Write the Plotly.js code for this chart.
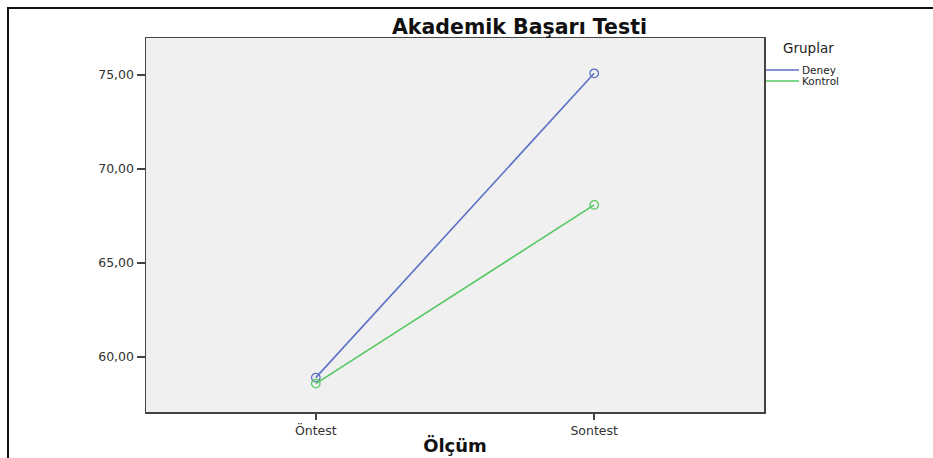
<!DOCTYPE html>
<html>
<head>
<meta charset="utf-8">
<script src="https://cdn.plot.ly/plotly-3.0.1.min.js"></script>
<style>
  html, body { margin:0; padding:0; background:#ffffff; }
  #wrap { position:relative; width:933px; height:458px; overflow:hidden; }
  #chart { position:absolute; left:0; top:0; width:933px; height:458px; }
  #frame { position:absolute; left:7px; top:7px; width:940px; height:480px;
           border-top:2px solid #111; border-left:2px solid #111; pointer-events:none; }
</style>
</head>
<body>
<div id="wrap">
  <div id="chart"></div>
  <div id="frame"></div>
</div>
<script>
const categories = ["Öntest", "Sontest"];
const seriesNames = ["Deney", "Kontrol"];
const deneyValues = [58.90, 75.09];
const kontrolValues = [58.58, 68.09];
const yTickValues = [60, 65, 70, 75];
const legendTitle = "Gruplar";

const colors = ["#5b6fc6", "#55c860"];
const seriesValues = [deneyValues, kontrolValues];
const FONT = "DejaVu Sans, Verdana, sans-serif";

const traces = seriesNames.map((name, i) => ({
  type: "scatter",
  mode: "lines+markers",
  name: name,
  x: categories,
  y: seriesValues[i],
  showlegend: false,
  line: { color: colors[i], width: 1.6 },
  marker: { symbol: "circle-open", size: 8.5, color: colors[i], line: { width: 1.3, color: colors[i] } }
}));

// plot area in pixels
const L = 146, R = 764, T = 38, B = 412;
const px = x => (x - L) / (R - L);
const py = y => (B - y) / (B - T);

const legendRows = [70, 81];
const shapes = [];
const annotations = [{
  xref: "paper", yref: "paper", x: px(781), y: py(48), xanchor: "left", yanchor: "middle",
  text: legendTitle, showarrow: false, font: { family: FONT, size: 13.5, color: "#222" }
}];
seriesNames.forEach((name, i) => {
  shapes.push({ type: "line", xref: "paper", yref: "paper",
    x0: px(766), x1: px(799), y0: py(legendRows[i]), y1: py(legendRows[i]),
    line: { color: colors[i], width: 1.6 } });
  annotations.push({ xref: "paper", yref: "paper", x: px(800), y: py(legendRows[i]),
    xanchor: "left", yanchor: "middle", text: name, showarrow: false,
    font: { family: FONT, size: 10.5, color: "#222" } });
});

const layout = {
  width: 933, height: 458,
  margin: { l: L, r: 933 - R, t: T, b: 458 - B },
  paper_bgcolor: "rgba(0,0,0,0)",
  plot_bgcolor: "#f0f0f0",
  separators: ", ",
  font: { family: FONT, color: "#333" },
  title: {
    text: "<b>Akademik Başarı Testi</b>",
    font: { size: 20.5, color: "#111", family: FONT },
    xref: "container", x: 519.5 / 933, xanchor: "center",
    yref: "container", y: 1 - 27 / 458, yanchor: "middle"
  },
  xaxis: {
    type: "category",
    range: [-0.61, 1.61],
    showgrid: false, zeroline: false,
    showline: true, mirror: true, linecolor: "#444", linewidth: 1.5,
    ticks: "outside", ticklen: 6, tickcolor: "#444", tickwidth: 1.5,
    tickfont: { size: 12.5, color: "#333" },
    title: { text: "<b>Ölçüm</b>", font: { size: 18, color: "#111" }, standoff: 3 }
  },
  yaxis: {
    range: [57.07, 76.97],
    tickvals: yTickValues,
    tickformat: ".2f",
    showgrid: false, zeroline: false,
    showline: true, mirror: true, linecolor: "#444", linewidth: 1.5,
    ticks: "outside", ticklen: 8, tickcolor: "#444", tickwidth: 1.5,
    ticklabelstandoff: 0,
    tickfont: { size: 12.5, color: "#333" }
  },
  showlegend: false,
  shapes: shapes,
  annotations: annotations
};

Plotly.newPlot("chart", traces, layout, { displayModeBar: false, staticPlot: true });
</script>
</body>
</html>
